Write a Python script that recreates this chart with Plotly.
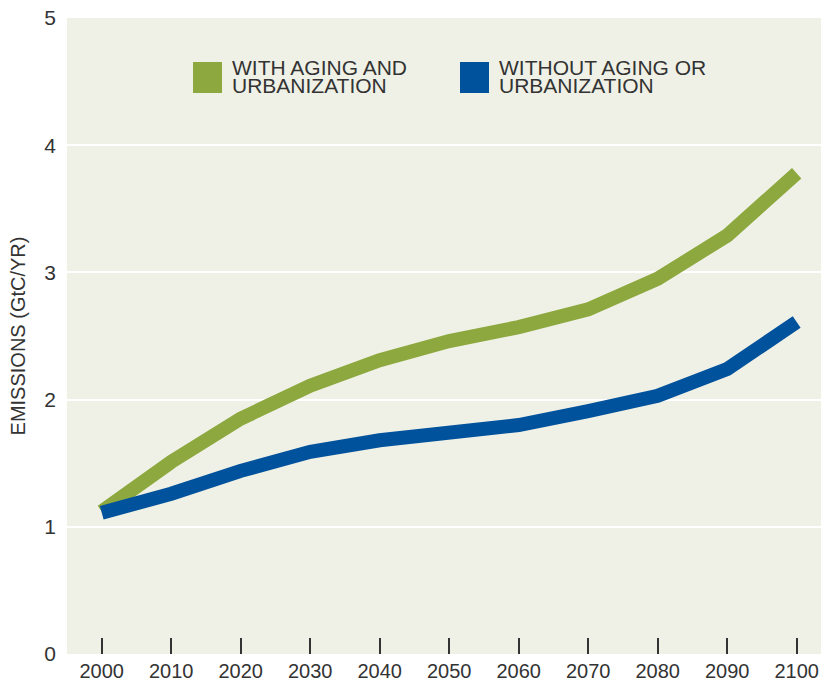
import plotly.graph_objects as go

# data
years = [2000, 2010, 2020, 2030, 2040, 2050, 2060, 2070, 2080, 2090, 2100]
with_aging = [1.12, 1.51, 1.85, 2.11, 2.31, 2.46, 2.57, 2.71, 2.95, 3.29, 3.78]
without_aging = [1.11, 1.26, 1.44, 1.59, 1.68, 1.73, 1.80, 1.91, 2.03, 2.24, 2.61]
y_ticks = [0, 1, 2, 3, 4, 5]

GREEN = "#8ca83e"
BLUE = "#00529c"
BG = "#f0f1e6"
TXT = "#333333"
FONT = "Liberation Sans, Arial, sans-serif"

W, H = 821, 680
L, R, T, B = 67, 0, 18, 26
pw, ph = W - L - R, H - T - B


def px(x):
    # page pixel -> paper coordinate
    return (x - L) / pw


def py(y):
    return (H - B - y) / ph


fig = go.Figure()
fig.add_trace(go.Scatter(x=years, y=with_aging, mode="lines",
                         line=dict(color=GREEN, width=14), name="WITH AGING AND URBANIZATION"))
fig.add_trace(go.Scatter(x=years, y=without_aging, mode="lines",
                         line=dict(color=BLUE, width=14), name="WITHOUT AGING OR URBANIZATION"))

# legend drawn by hand: squares + two-line labels
shapes = []
annotations = []
legend = [
    (193, GREEN, ["WITH AGING AND", "URBANIZATION"]),
    (460, BLUE, ["WITHOUT AGING OR", "URBANIZATION"]),
]
for x0, col, lines in legend:
    shapes.append(dict(type="rect", xref="paper", yref="paper",
                       x0=px(x0), x1=px(x0 + 29), y0=py(93), y1=py(62),
                       fillcolor=col, line=dict(width=0)))
    for i, t in enumerate(lines):
        annotations.append(dict(text=t, xref="paper", yref="paper",
                                x=px(x0 + 37), y=py(68 + 18 * i),
                                xanchor="left", yanchor="middle", showarrow=False,
                                font=dict(family=FONT, size=21, color=TXT)))

fig.update_layout(
    width=W, height=H,
    margin=dict(l=L, r=R, t=T, b=B, pad=0),
    paper_bgcolor="white", plot_bgcolor=BG,
    showlegend=False,
    font=dict(family=FONT, color=TXT),
    shapes=shapes, annotations=annotations,
)
fig.update_xaxes(
    range=[1995, 2103.5], tickvals=years, showgrid=False, zeroline=False,
    ticks="inside", ticklen=16, tickwidth=2, tickcolor=TXT,
    tickfont=dict(size=20, color=TXT), showline=False, ticklabelstandoff=3,
    ticklabeloverflow="allow", automargin=False,
)
fig.update_yaxes(
    range=[0, 5], tickvals=y_ticks, showgrid=True, gridcolor="white", gridwidth=2,
    zeroline=False, ticks="", showline=False,
    tickfont=dict(size=21, color=TXT), ticklabelstandoff=10,
    ticklabeloverflow="allow", automargin=False,
    title=dict(text="EMISSIONS (GtC/YR)", font=dict(size=20, color=TXT), standoff=13),
)

# drop the browser's default body margin so the figure fills the window
fig.write_html("out.html", config={"displayModeBar": False},
               post_script="document.body.style.margin='0';")
